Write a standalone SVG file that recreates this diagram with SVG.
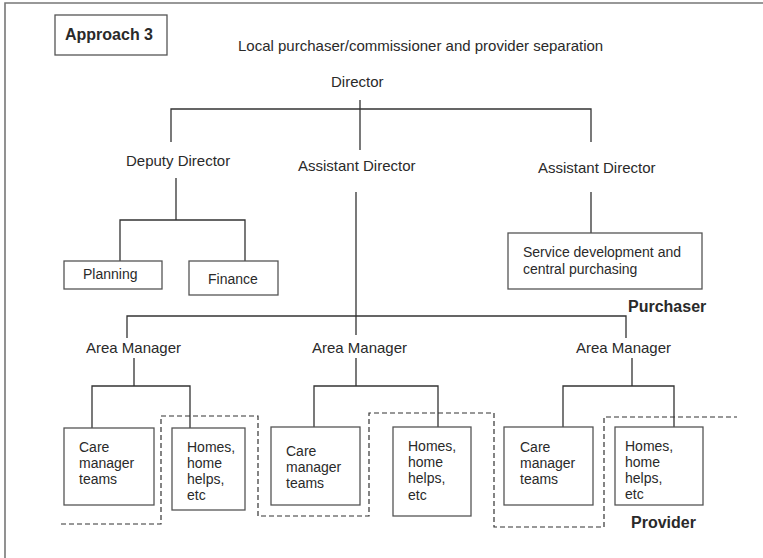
<svg xmlns="http://www.w3.org/2000/svg" width="763" height="558" viewBox="0 0 763 558">
<style>
text{font-family:"Liberation Sans",Arial,sans-serif;fill:#2a2a2a}
.lbl{font-size:15px}
.bx{font-size:14px}
.b{font-weight:bold;font-size:16px}
.box{fill:#fff;stroke:#555;stroke-width:1.3}
.ln{fill:none;stroke:#333;stroke-width:1.3}
.dash{fill:none;stroke:#333;stroke-width:1.2;stroke-dasharray:5 3}
</style>
<rect width="763" height="558" fill="#fff"/>
<path d="M5,558 V3 H763" fill="none" stroke="#777" stroke-width="1.6"/>
<g id="approach"><rect class="box" x="55" y="15" width="112" height="40"/><text class="b" x="65" y="40">Approach 3</text></g>
<g id="title"><text class="lbl" x="238" y="51">Local purchaser/commissioner and provider separation</text></g>
<g id="connectors">
<path class="ln" d="M360,100 V150 M171,142 V109 H591 V142"/>
<path class="ln" d="M176,178 V220 M120,261 V220 H245 V261"/>
<path class="ln" d="M356,192 V335 M591,192 V233"/>
<path class="ln" d="M127,338 V316 H626 V338"/>
<path class="ln" d="M134,358 V386 M92,428 V386 H190 V428"/>
<path class="ln" d="M356,358 V386 M314,427 V386 H438 V427"/>
<path class="ln" d="M632,358 V386 M563,427 V386 H674 V427"/>
</g>
<g id="director"><text class="lbl" x="331" y="87">Director</text></g>
<g id="deputy"><text class="lbl" x="126" y="166">Deputy Director</text></g>
<g id="asst1"><text class="lbl" x="298" y="171">Assistant Director</text></g>
<g id="asst2"><text class="lbl" x="538" y="173">Assistant Director</text></g>
<g id="planning"><rect class="box" x="64" y="261" width="98" height="28"/><text class="bx" x="83" y="279">Planning</text></g>
<g id="finance"><rect class="box" x="189" y="261" width="89" height="34"/><text class="bx" x="208" y="284">Finance</text></g>
<g id="service"><rect class="box" x="508" y="233" width="194" height="56"/><text class="bx" x="523" y="257">Service development and</text><text class="bx" x="523" y="274">central purchasing</text></g>
<g id="purchaser"><text class="b" x="628" y="312">Purchaser</text></g>
<g id="am1"><text class="lbl" x="86" y="353">Area Manager</text></g>
<g id="am2"><text class="lbl" x="312" y="353">Area Manager</text></g>
<g id="am3"><text class="lbl" x="576" y="353">Area Manager</text></g>
<g id="care1"><rect class="box" x="64" y="428" width="90" height="77"/><text class="bx" x="79" y="452">Care</text><text class="bx" x="79" y="468">manager</text><text class="bx" x="79" y="484">teams</text></g>
<g id="homes1"><rect class="box" x="172" y="428" width="73" height="82"/><text class="bx" x="187" y="452">Homes,</text><text class="bx" x="187" y="468">home</text><text class="bx" x="187" y="484">helps,</text><text class="bx" x="187" y="500">etc</text></g>
<g id="care2"><rect class="box" x="271" y="427" width="89" height="78"/><text class="bx" x="286" y="456">Care</text><text class="bx" x="286" y="472">manager</text><text class="bx" x="286" y="488">teams</text></g>
<g id="homes2"><rect class="box" x="393" y="427" width="78" height="89"/><text class="bx" x="408" y="451">Homes,</text><text class="bx" x="408" y="467">home</text><text class="bx" x="408" y="483">helps,</text><text class="bx" x="408" y="500">etc</text></g>
<g id="care3"><rect class="box" x="504" y="427" width="89" height="78"/><text class="bx" x="520" y="452">Care</text><text class="bx" x="520" y="468">manager</text><text class="bx" x="520" y="484">teams</text></g>
<g id="homes3"><rect class="box" x="615" y="427" width="88" height="78"/><text class="bx" x="625" y="451">Homes,</text><text class="bx" x="625" y="467">home</text><text class="bx" x="625" y="483">helps,</text><text class="bx" x="625" y="499">etc</text></g>
<g id="boundary"><path class="dash" d="M61,524 H161 V416 H258 V516 H369 V413 H494 V527 H604 V417 H737"/></g>
<g id="provider"><text class="b" x="631" y="528">Provider</text></g>
</svg>
